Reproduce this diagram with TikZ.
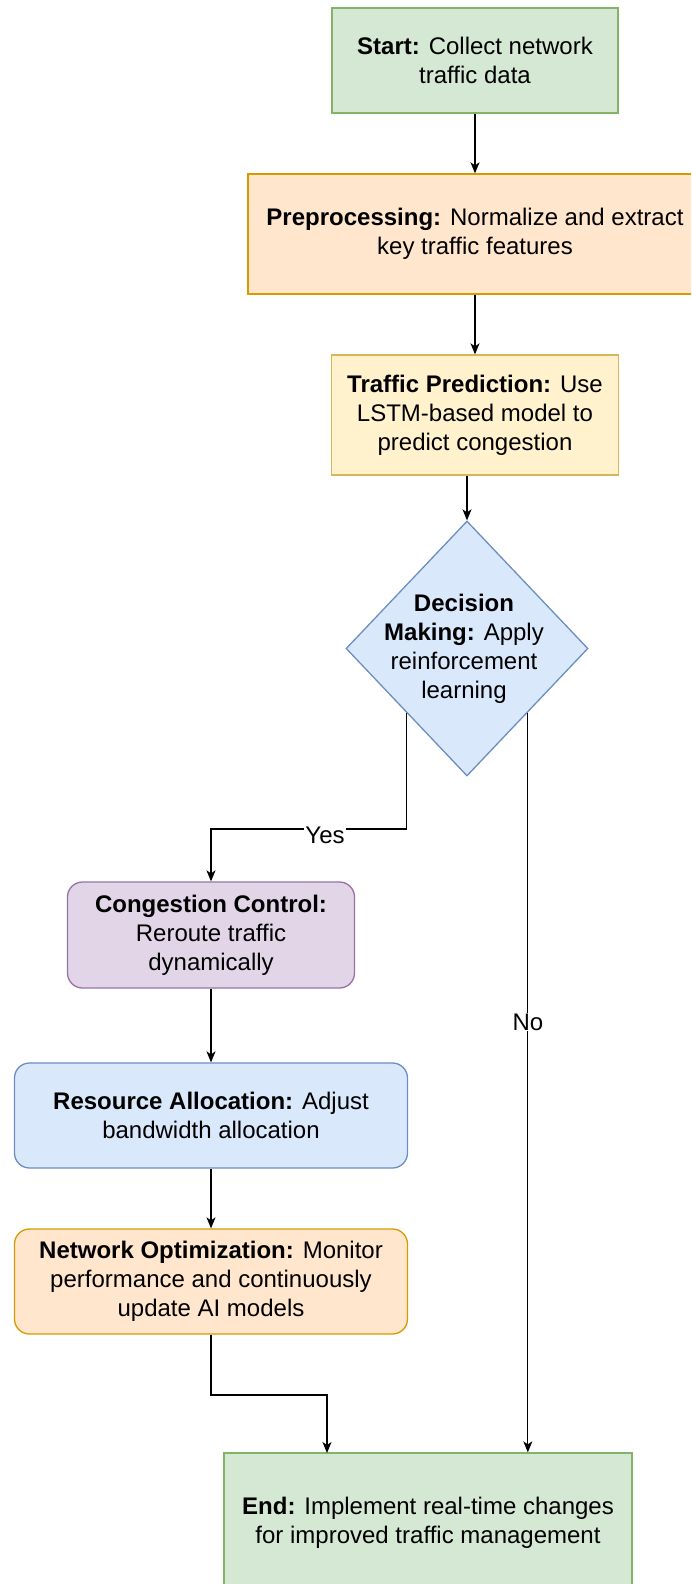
\documentclass[tikz,border=0pt]{standalone}
\usepackage{fontspec}
\setmainfont{Liberation Sans}
\usetikzlibrary{shapes.geometric,arrows.meta}
\definecolor{gfill}{HTML}{D5E8D4}\definecolor{gline}{HTML}{82B366}
\definecolor{ofill}{HTML}{FFE6CC}\definecolor{oline}{HTML}{D79B00}
\definecolor{yfill}{HTML}{FFF2CC}\definecolor{yline}{HTML}{D6B656}
\definecolor{bfill}{HTML}{DAE8FC}\definecolor{bline}{HTML}{6C8EBF}
\definecolor{pfill}{HTML}{E1D5E7}\definecolor{pline}{HTML}{9673A6}
\tikzset{
  boxstyle/.style={draw, line width=1.3pt, inner sep=0pt, align=center,
    font=\fontsize{24}{29}\selectfont},
  greenbox/.style={boxstyle, fill=gfill, draw=gline},
  orangebox/.style={boxstyle, fill=ofill, draw=oline},
  yellowbox/.style={boxstyle, fill=yfill, draw=yline},
  bluebox/.style={boxstyle, fill=bfill, draw=bline},
  purplebox/.style={boxstyle, fill=pfill, draw=pline},
  roundbox/.style={rounded corners=15pt},
  arr/.style={draw=black, line width=1.3pt, -{Stealth[length=11pt,width=9pt,inset=3pt]}},
  edgelabel/.style={fill=white, inner sep=1pt, font=\fontsize{24}{29}\selectfont}
}
\begin{document}
\begin{tikzpicture}[x=1pt,y=-1pt]
\useasboundingbox (0,0) rectangle (691,1584);
\clip (0,0) rectangle (691,1584);
\node[greenbox, minimum width=286pt, minimum height=105pt] (start) at (475,60.5)
  {\textbf{Start:} Collect network\\traffic data};
\node[orangebox, minimum width=454pt, minimum height=120pt] (prep) at (475,234)
  {\textbf{Preprocessing:} Normalize and extract\\key traffic features};
\node[yellowbox, minimum width=287pt, minimum height=120pt] (pred) at (475,415)
  {\textbf{Traffic Prediction:} Use\\LSTM-based model to\\predict congestion};
\node[diamond, draw=bline, fill=bfill, line width=1.3pt, inner sep=0pt,
  minimum width=242pt, minimum height=255pt] (dec) at (467,648.5) {};
\node[align=center, font=\fontsize{24}{29}\selectfont] (dectext) at (464,649)
  {\textbf{Decision}\\\textbf{Making:} Apply\\reinforcement\\learning};
\node[purplebox, roundbox, minimum width=287pt, minimum height=106pt] (cc) at (211,935)
  {\textbf{Congestion Control:}\\Reroute traffic\\dynamically};
\node[bluebox, roundbox, minimum width=393pt, minimum height=105pt] (ra) at (211,1115.5)
  {\textbf{Resource Allocation:} Adjust\\bandwidth allocation};
\node[orangebox, roundbox, minimum width=393pt, minimum height=105pt] (netopt) at (211,1281.5)
  {\textbf{Network Optimization:} Monitor\\performance and continuously\\update AI models};
\node[greenbox, minimum width=408pt, minimum height=140pt] (end) at (428,1523)
  {\textbf{End:} Implement real-time changes\\for improved traffic management};
\coordinate (ybend) at (211,829);
\coordinate (nbend) at (211,1395);
\coordinate (nin) at (327,1453);
\draw[arr] (start.south) -- (prep.north);
\draw[arr] (prep.south) -- (pred.north);
\draw[arr] (pred.south -| dec.north) -- (dec.north);
\draw[arr] (dec.south west) |- (ybend) -- (cc.north);
\draw[arr] (dec.south east) -- (dec.south east |- end.north);
\draw[arr] (cc.south) -- (ra.north);
\draw[arr] (ra.south) -- (netopt.north);
\draw[arr] (netopt.south) -- (nbend) -| (nin);
\node[edgelabel, anchor=base] (yes) at (325,843) {Yes};
\node[edgelabel, anchor=base] (no) at (528,1030) {No};
\end{tikzpicture}
\end{document}
